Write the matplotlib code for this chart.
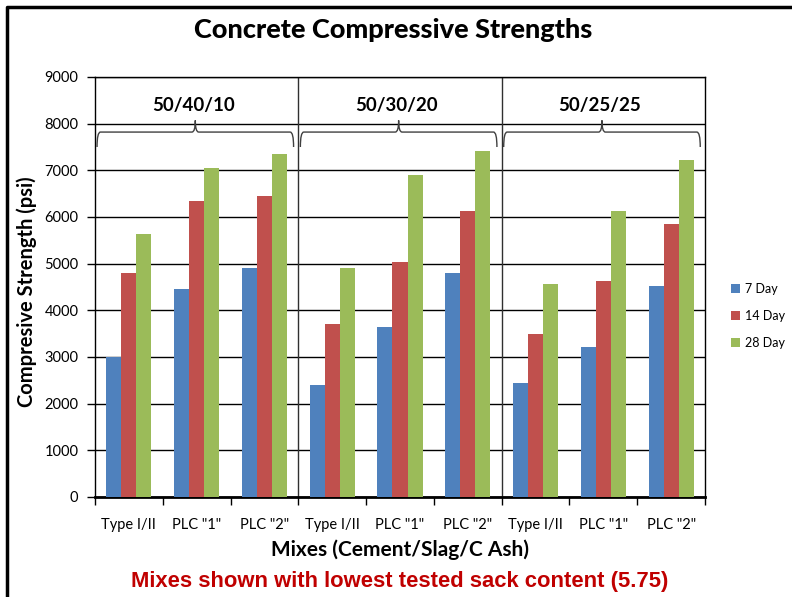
import matplotlib
matplotlib.use("Agg")
import matplotlib.pyplot as plt
import numpy as np
from matplotlib.path import Path
from matplotlib.patches import PathPatch
from matplotlib.lines import Line2D

plt.rcParams['font.family'] = ['Lato', 'DejaVu Sans']

# Data
groups = ['50/40/10', '50/30/20', '50/25/25']
mixes = ['Type I/II', 'PLC "1"', 'PLC "2"']
day7 = [3010, 4450, 4900, 2390, 3640, 4790, 2440, 3210, 4520]
day14 = [4790, 6340, 6440, 3710, 5040, 6120, 3490, 4620, 5840]
day28 = [5640, 7040, 7340, 4900, 6890, 7410, 4570, 6120, 7220]
series = ['7 Day', '14 Day', '28 Day']
colors = ['#4F81BD', '#C0504D', '#9BBB59']

W, H = 792, 597
fig = plt.figure(figsize=(W / 100, H / 100), dpi=100)
ax = fig.add_axes([95 / W, 1 - 497 / H, 610 / W, 420 / H])

labels = mixes * len(groups)
x = np.arange(len(labels))
bw = 0.222
for i, (vals, name, c) in enumerate(zip([day7, day14, day28], series, colors)):
    ax.bar(x + (i - 1) * bw, vals, bw, color=c, label=name, zorder=3, linewidth=0)

ax.set_xlim(-0.5, len(labels) - 0.5)
ax.set_ylim(0, 9000)
ax.set_yticks(np.arange(0, 9001, 1000))
ax.yaxis.grid(True, color='black', linewidth=1, zorder=1)
ax.tick_params(axis='y', direction='out', length=6, width=1, labelsize=10.5, pad=6)

# category boundaries as ticks, labels in between
ax.set_xticks(np.arange(-0.5, len(labels), 1))
ax.set_xticklabels([])
ax.set_xticks(x, minor=True)
ax.set_xticklabels(labels, minor=True, fontsize=10.5)
ax.tick_params(axis='x', which='major', direction='out', length=6, width=1)
ax.tick_params(axis='x', which='minor', length=0, pad=15)

for sp in ax.spines.values():
    sp.set_color('black')
    sp.set_linewidth(1)
ax.spines['bottom'].set_linewidth(2)

# separators between groups
for b in [2.5, 5.5]:
    ax.axvline(b, color='#303030', linewidth=1, zorder=2)

# curly braces and group names
def brace(x0, x1, ylo, ymid, ytip):
    xc = (x0 + x1) / 2
    d = 0.05
    verts = [(x0, ylo), (x0, ymid), (x0 + d, ymid),
             (xc - d, ymid), (xc, ymid), (xc, ytip),
             (xc, ymid), (xc + d, ymid),
             (x1 - d, ymid), (x1, ymid), (x1, ylo)]
    codes = [Path.MOVETO, Path.CURVE3, Path.CURVE3,
             Path.LINETO, Path.CURVE3, Path.CURVE3,
             Path.CURVE3, Path.CURVE3,
             Path.LINETO, Path.CURVE3, Path.CURVE3]
    ax.add_patch(PathPatch(Path(verts, codes), fill=False, edgecolor='#404040',
                           linewidth=1, zorder=4, clip_on=False))

for g, name in enumerate(groups):
    s = g * 3 - 0.5
    brace(s + 0.03, s + 2.93, 7500, 7820, 8070)
    ax.text(s + 1.45, 8380, name, ha='center', va='center', fontsize=13.5,
            fontweight='bold', zorder=5)

ax.legend(loc='center left', bbox_to_anchor=(720 / W, 1 - 316 / H),
          bbox_transform=fig.transFigure, frameon=False, fontsize=9,
          handlelength=0.7, handleheight=0.7, handletextpad=0.4, labelspacing=1.2)

fig.text(393 / W, 1 - 30 / H, 'Concrete Compressive Strengths', ha='center',
         va='center', fontsize=19.5, fontweight=900)
fig.text(27 / W, 1 - 292 / H, 'Compresive Strength (psi)', ha='center',
         va='center', rotation=90, fontsize=14.5, fontweight='bold')
fig.text(400 / W, 1 - 550 / H, 'Mixes (Cement/Slag/C Ash)', ha='center',
         va='center', fontsize=15, fontweight='bold')
fig.text(400 / W, 1 - 582 / H, 'Mixes shown with lowest tested sack content (5.75)',
         ha='center', va='center', fontsize=15.8, fontweight='bold', color='#C00000',
         family=['Liberation Sans', 'DejaVu Sans'])

# outer frame (left and top edges visible)
fig.add_artist(Line2D([7 / W, 7 / W, 1], [0, 1 - 7 / H, 1 - 7 / H],
                      transform=fig.transFigure, color='black', linewidth=2.5))

fig.savefig('out.png', dpi=100)
